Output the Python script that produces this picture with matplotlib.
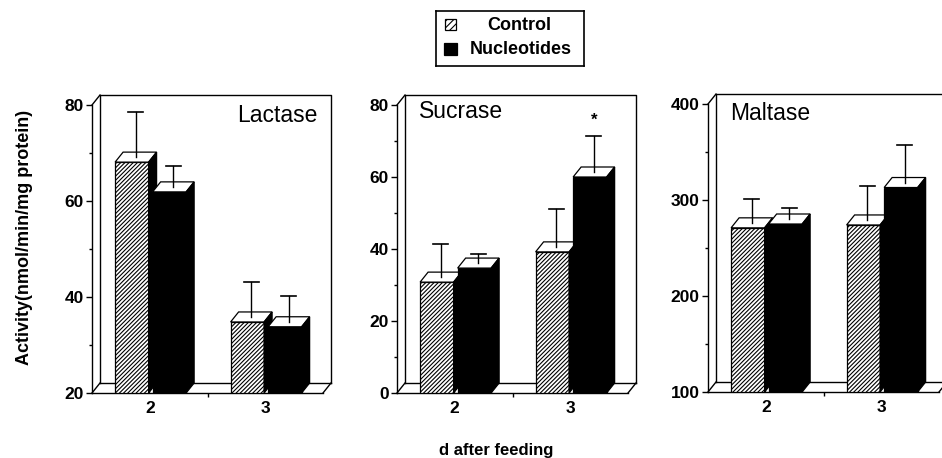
import matplotlib
matplotlib.use("Agg")
import matplotlib.pyplot as plt
from matplotlib.patches import Polygon, Rectangle

plt.rcParams['font.family'] = ['Liberation Sans', 'DejaVu Sans']
plt.rcParams['hatch.linewidth'] = 0.8

days = ['2', '3']
groups = ['Control', 'Nucleotides']

# mean activity and SEM
lactase_ctrl = [68.1, 34.8]
lactase_nuc = [61.9, 33.8]
lactase_ctrl_sem = [10.4, 8.3]
lactase_nuc_sem = [5.4, 6.5]

sucrase_ctrl = [30.8, 39.2]
sucrase_nuc = [34.7, 60.0]
sucrase_ctrl_sem = [10.6, 11.9]
sucrase_nuc_sem = [3.9, 11.4]

maltase_ctrl = [271, 274]
maltase_nuc = [275, 313]
maltase_ctrl_sem = [30, 41]
maltase_nuc_sem = [17, 44]

W, H = 942, 458
fig = plt.figure(figsize=(W / 100, H / 100), dpi=100)

AX_W, AX_H = 231, 288
DX_PX, DY_PX = 8, 10
BW = 0.29
OFFS = [-0.155, 0.17]
HATCH = '////////'


def make_axes(left_px, top_px):
    return fig.add_axes([left_px / W, 1 - (top_px + AX_H) / H, AX_W / W, AX_H / H])


def box3d(ax, x0, x1, y0, top, dx, dy, solid, z):
    # front face
    ax.bar(x0 + (x1 - x0) / 2, top - y0, bottom=y0, width=x1 - x0,
           facecolor='black' if solid else 'white',
           hatch=None if solid else HATCH, edgecolor='black', lw=0.9, zorder=z)
    topface = [(x0, top), (x0 + dx, top + dy), (x1 + dx, top + dy), (x1, top)]
    ax.add_patch(Polygon(topface, closed=True, facecolor='white', edgecolor='black',
                         lw=0.9, zorder=z + 0.1, clip_on=False))
    side = [(x1, y0), (x1, top), (x1 + dx, top + dy), (x1 + dx, y0 + dy)]
    ax.add_patch(Polygon(side, closed=True, facecolor='black', edgecolor='black',
                         lw=0.9, zorder=z + 0.2, clip_on=False))


def panel(ax, name, ctrl, nuc, ctrl_sem, nuc_sem, ylim, major, minor, title_xy, title_ha):
    y0, y1 = ylim
    ax.set_xlim(-0.5, 1.5)
    ax.set_ylim(y0, y1)
    dx = DX_PX * 2.0 / AX_W
    dy = DY_PX * (y1 - y0) / AX_H

    for s in ['top', 'right']:
        ax.spines[s].set_visible(False)
    for s in ['left', 'bottom']:
        ax.spines[s].set_linewidth(1.0)
    ax.patch.set_visible(False)

    lk = dict(color='black', lw=1.0, clip_on=False, zorder=1)
    xl, xr = -0.5, 1.5
    # back wall and floor
    ax.plot([xl + dx, xl + dx, xr + dx, xr + dx], [y0 + dy, y1 + dy, y1 + dy, y0 + dy], **lk)
    ax.plot([xl + dx, xr + dx], [y0 + dy, y0 + dy], **lk)
    ax.plot([xl, xl + dx], [y1, y1 + dy], **lk)
    ax.plot([xl, xl + dx], [y0, y0 + dy], **lk)
    ax.plot([xr, xr + dx], [y0, y0 + dy], **lk)

    z = 3
    for i in range(len(days)):
        for j, (vals, sems) in enumerate([(ctrl, ctrl_sem), (nuc, nuc_sem)]):
            c = i + OFFS[j]
            v = vals[i]
            box3d(ax, c - BW / 2, c + BW / 2, y0, v, dx, dy, j == 1, z)
            ex = c + dx / 2
            ax.plot([ex, ex], [v + dy / 2, v + sems[i]], color='black', lw=1.0,
                    zorder=z + 0.5, clip_on=False)
            ax.plot([ex - 0.065, ex + 0.065], [v + sems[i]] * 2, color='black', lw=1.2,
                    zorder=z + 0.5, clip_on=False)
            z += 1

    ax.set_yticks(major)
    ax.set_yticks(minor, minor=True)
    ax.tick_params(axis='y', which='major', length=4.5, width=1, labelsize=12.5, pad=1.5)
    ax.tick_params(axis='y', which='minor', length=2.5, width=1)
    for t in ax.get_yticklabels():
        t.set_fontweight('bold')
    ax.set_xticks(range(len(days)))
    ax.set_xticklabels(days, fontweight='bold', fontsize=12.5)
    ax.set_xticks([0.5], minor=True)
    ax.tick_params(axis='x', which='major', length=0, pad=6)
    ax.tick_params(axis='x', which='minor', length=3, width=1)

    ax.text(title_xy[0], title_xy[1], name, transform=ax.transAxes, fontsize=16.5,
            ha=title_ha, va='baseline')
    return dx, dy


ax1 = make_axes(92, 105)
panel(ax1, 'Lactase', lactase_ctrl, lactase_nuc, lactase_ctrl_sem, lactase_nuc_sem,
      (20, 80), [20, 40, 60, 80], [30, 50, 70], (0.978, 0.941), 'right')

ax2 = make_axes(397, 105)
dx2, dy2 = panel(ax2, 'Sucrase', sucrase_ctrl, sucrase_nuc, sucrase_ctrl_sem, sucrase_nuc_sem,
                 (0, 80), [0, 20, 40, 60, 80], [10, 30, 50, 70], (0.095, 0.955), 'left')
ax2.annotate('*', (1 + OFFS[1] + dx2 / 2, sucrase_nuc[1] + sucrase_nuc_sem[1]),
             xytext=(0, 6), textcoords='offset points', ha='center', va='bottom',
             fontsize=12, fontweight='bold', annotation_clip=False)

ax3 = make_axes(708, 104)
panel(ax3, 'Maltase', maltase_ctrl, maltase_nuc, maltase_ctrl_sem, maltase_nuc_sem,
      (100, 400), [100, 200, 300, 400], [150, 250, 350], (0.095, 0.944), 'left')

fig.text(25 / W, 1 - 237 / H, 'Activity(nmol/min/mg protein)', rotation=90,
         ha='center', va='center', fontsize=13, fontweight='bold')
fig.text(496 / W, 1 - 451 / H, 'd after feeding', ha='center', va='center',
         fontsize=12, fontweight='bold')

# legend box drawn by hand so the labels can be centred like the original
lg = fig.add_axes([436 / W, 1 - 66 / H, 148 / W, 55 / H])
lg.set_xlim(0, 148)
lg.set_ylim(55, 0)
lg.set_xticks([])
lg.set_yticks([])
for s in lg.spines.values():
    s.set_linewidth(1.2)
lg.add_patch(Rectangle((9, 8), 11, 11, facecolor='white', edgecolor='black',
                       hatch='/////', lw=0.9))
lg.add_patch(Rectangle((8, 32), 13, 12, facecolor='black', edgecolor='black', lw=0.9))
lg.text(83, 14, groups[0], ha='center', va='center', fontsize=13, fontweight='bold')
lg.text(85, 39, groups[1], ha='center', va='center', fontsize=13, fontweight='bold')

fig.savefig('out.png', dpi=100)
